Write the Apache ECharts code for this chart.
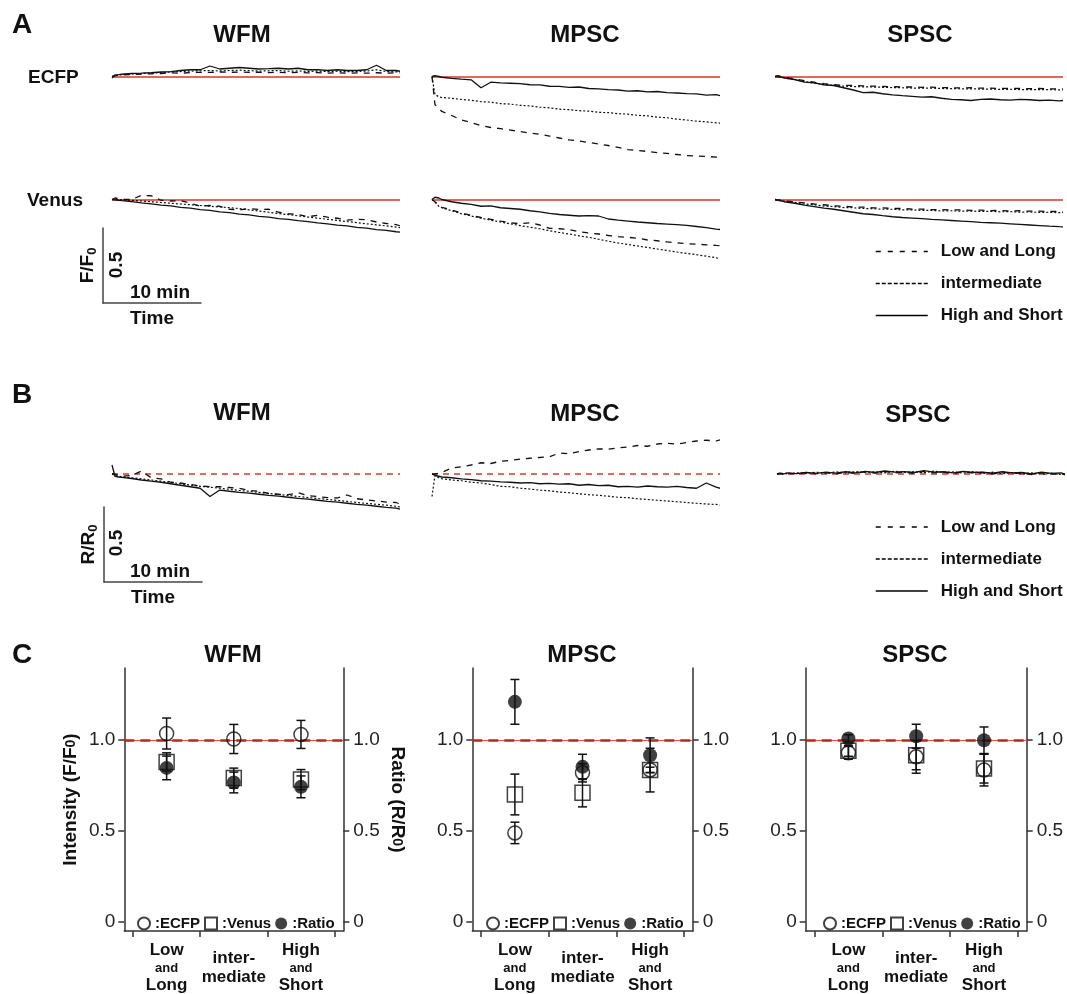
<!DOCTYPE html>
<html>
<head>
<meta charset="utf-8">
<script src="https://cdn.jsdelivr.net/npm/echarts@6/dist/echarts.min.js"></script>
<style>
html,body{margin:0;padding:0;background:#fff}
#main{width:1067px;height:994px}
</style>
</head>
<body>
<div id="main"></div>
<script>
// time points (min) shared by every trace
var T = [0,0.3,0.7, 1,2,3,4,5,6,7,8,9,10, 11,12,13,14,15,16,17,18,19,20, 21,22,23,24,25,26,27,28,29, 29.4];

// A : ECFP  F/F0
var wfmEcfpLL = [1.000,1.004,1.008, 1.010,1.014,1.016,1.018,1.020,1.024,1.022,1.026,1.028,1.027, 1.030,1.028,1.030,1.027,1.029,1.026,1.028,1.025,1.027,1.024, 1.026,1.023,1.025,1.022,1.024,1.022,1.025,1.022,1.024, 1.022];
var wfmEcfpIM = [1.000,1.006,1.010, 1.013,1.017,1.020,1.023,1.026,1.030,1.033,1.036,1.038,1.040, 1.037,1.040,1.042,1.039,1.036,1.038,1.040,1.035,1.037,1.034, 1.036,1.033,1.035,1.032,1.034,1.036,1.045,1.033,1.031, 1.030];
var wfmEcfpHS = [0.990,1.010,1.012, 1.015,1.020,1.022,1.025,1.030,1.032,1.040,1.045,1.045,1.070, 1.050,1.055,1.060,1.055,1.050,1.052,1.055,1.050,1.055,1.045, 1.046,1.040,1.045,1.040,1.040,1.045,1.075,1.040,1.040, 1.035];
var mpscEcfpLL = [1.000,0.813,0.787, 0.767,0.740,0.710,0.693,0.673,0.660,0.652,0.643,0.633,0.623, 0.615,0.603,0.590,0.577,0.570,0.560,0.550,0.540,0.527,0.513, 0.507,0.500,0.493,0.487,0.480,0.473,0.470,0.467,0.463, 0.462];
var mpscEcfpIM = [1.000,0.880,0.865, 0.860,0.855,0.847,0.842,0.832,0.829,0.819,0.816,0.808,0.804, 0.796,0.791,0.782,0.779,0.772,0.769,0.761,0.759,0.752,0.749, 0.741,0.738,0.729,0.725,0.716,0.710,0.702,0.698,0.691, 0.689];
var mpscEcfpHS = [1.000,1.005,1.000, 0.995,0.988,0.982,0.978,0.925,0.962,0.958,0.955,0.952,0.945, 0.944,0.935,0.934,0.928,0.930,0.920,0.918,0.912,0.910,0.902, 0.905,0.898,0.900,0.892,0.890,0.886,0.884,0.876,0.879, 0.873];
var spscEcfpLL = [1.000,1.005,1.000, 0.995,0.985,0.972,0.962,0.952,0.945,0.942,0.940,0.937,0.936, 0.934,0.932,0.930,0.930,0.928,0.929,0.926,0.925,0.924,0.925, 0.922,0.922,0.920,0.921,0.920,0.919,0.920,0.918,0.918, 0.917];
var spscEcfpIM = [1.000,1.002,0.997, 0.990,0.980,0.966,0.956,0.946,0.940,0.936,0.933,0.931,0.930, 0.928,0.926,0.925,0.923,0.922,0.922,0.920,0.919,0.918,0.918, 0.916,0.916,0.914,0.915,0.913,0.913,0.912,0.912,0.911, 0.911];
var spscEcfpHS = [1.000,0.998,0.995, 0.990,0.980,0.962,0.958,0.945,0.940,0.925,0.910,0.893,0.895, 0.885,0.878,0.872,0.868,0.862,0.865,0.855,0.848,0.845,0.840, 0.848,0.850,0.845,0.843,0.848,0.845,0.840,0.842,0.838, 0.840];

// A : Venus  F/F0
var wfmVenLL = [1.000,1.010,1.005, 1.000,1.000,1.027,1.025,0.995,0.990,0.992,0.975,0.955,0.960, 0.955,0.935,0.930,0.940,0.933,0.935,0.915,0.905,0.900,0.885, 0.895,0.882,0.875,0.862,0.868,0.865,0.850,0.840,0.833, 0.825];
var wfmVenIM = [1.000,1.000,0.999, 0.998,0.994,0.990,0.985,0.980,0.975,0.970,0.965,0.960,0.955, 0.950,0.946,0.939,0.931,0.923,0.915,0.907,0.899,0.891,0.883, 0.876,0.868,0.861,0.853,0.846,0.838,0.831,0.824,0.816, 0.813];
var wfmVenHS = [1.000,0.998,0.995, 0.992,0.986,0.977,0.971,0.962,0.957,0.947,0.942,0.932,0.927, 0.918,0.912,0.903,0.897,0.888,0.883,0.873,0.868,0.859,0.853, 0.844,0.838,0.829,0.824,0.814,0.809,0.799,0.794,0.785, 0.782];
var mpscVenLL = [1.000,0.985,0.960, 0.948,0.930,0.910,0.895,0.880,0.868,0.856,0.845,0.838,0.845, 0.830,0.808,0.805,0.800,0.785,0.777,0.770,0.760,0.752,0.748, 0.742,0.730,0.725,0.717,0.711,0.705,0.702,0.698,0.694, 0.693];
var mpscVenIM = [1.000,0.982,0.955, 0.945,0.925,0.905,0.890,0.875,0.862,0.850,0.838,0.826,0.815, 0.805,0.792,0.780,0.770,0.758,0.748,0.735,0.722,0.710,0.700, 0.690,0.680,0.670,0.660,0.650,0.640,0.632,0.622,0.612, 0.605];
var mpscVenHS = [1.000,1.015,1.010, 1.000,0.985,0.975,0.968,0.955,0.958,0.945,0.940,0.935,0.925, 0.918,0.908,0.900,0.895,0.890,0.892,0.890,0.870,0.862,0.856, 0.850,0.845,0.840,0.836,0.832,0.827,0.820,0.812,0.803, 0.800];
var spscVenLL = [1.000,0.998,0.995, 0.990,0.984,0.977,0.970,0.965,0.958,0.955,0.950,0.949,0.944, 0.944,0.940,0.940,0.936,0.936,0.932,0.933,0.930,0.931,0.928, 0.929,0.926,0.927,0.924,0.925,0.922,0.923,0.920,0.921, 0.918];
var spscVenIM = [1.000,0.996,0.992, 0.986,0.979,0.970,0.965,0.956,0.953,0.946,0.945,0.940,0.939, 0.935,0.935,0.931,0.931,0.927,0.927,0.924,0.925,0.922,0.923, 0.920,0.921,0.918,0.919,0.916,0.917,0.914,0.915,0.912, 0.913];
var spscVenHS = [1.000,0.995,0.990, 0.985,0.975,0.962,0.952,0.942,0.935,0.925,0.915,0.905,0.900, 0.892,0.885,0.880,0.876,0.872,0.867,0.864,0.860,0.856,0.852, 0.848,0.845,0.842,0.838,0.834,0.830,0.826,0.822,0.819, 0.818];

// B : ratio  R/R0
var wfmRatLL = [1.000,1.000,0.990, 0.985,0.990,1.020,0.975,0.968,0.945,0.940,0.930,0.920,0.915, 0.915,0.910,0.905,0.890,0.885,0.870,0.865,0.862,0.875,0.855, 0.850,0.842,0.840,0.860,0.835,0.827,0.820,0.813,0.810, 0.800];
var wfmRatIM = [1.000,0.990,0.985, 0.982,0.975,0.968,0.960,0.952,0.944,0.935,0.927,0.918,0.912, 0.905,0.898,0.890,0.884,0.877,0.870,0.864,0.857,0.850,0.843, 0.837,0.830,0.824,0.817,0.810,0.804,0.798,0.792,0.785, 0.780];
var wfmRatHS = [1.060,0.985,0.980, 0.978,0.970,0.960,0.952,0.945,0.935,0.925,0.915,0.905,0.850, 0.893,0.885,0.878,0.872,0.865,0.858,0.852,0.845,0.838,0.832, 0.825,0.818,0.812,0.805,0.798,0.792,0.785,0.778,0.772, 0.766];
var mpscRatLL = [1.000,1.000,1.005, 1.010,1.040,1.048,1.060,1.075,1.070,1.085,1.090,1.100,1.105, 1.110,1.115,1.140,1.135,1.150,1.160,1.168,1.165,1.175,1.180, 1.190,1.185,1.200,1.205,1.200,1.210,1.220,1.225,1.220, 1.228];
var mpscRatIM = [0.850,0.990,0.975, 0.968,0.960,0.955,0.945,0.940,0.930,0.918,0.915,0.905,0.900, 0.892,0.888,0.880,0.875,0.868,0.862,0.858,0.852,0.845,0.842, 0.835,0.830,0.825,0.820,0.815,0.810,0.805,0.800,0.797, 0.793];
var mpscRatHS = [1.000,0.990,0.985, 0.980,0.975,0.968,0.962,0.955,0.952,0.948,0.945,0.940,0.942, 0.935,0.938,0.932,0.935,0.925,0.930,0.922,0.925,0.915,0.918, 0.912,0.920,0.915,0.912,0.918,0.910,0.905,0.940,0.912, 0.905];
var spscRatLL = [1.000,1.004,0.998, 1.006,1.000,1.010,1.002,1.008,1.000,1.012,1.004,1.014,1.006, 1.016,1.008,1.012,1.004,1.018,1.008,1.012,1.002,1.016,1.006, 1.010,1.000,1.012,1.004,1.006,0.996,1.008,1.000,1.002, 0.994];
var spscRatIM = [1.000,1.002,1.006, 1.000,1.008,1.003,1.012,1.005,1.014,1.008,1.016,1.010,1.014, 1.008,1.018,1.011,1.015,1.009,1.019,1.010,1.014,1.006,1.016, 1.004,1.012,1.002,1.010,1.000,1.008,0.998,1.006,0.996, 0.998];
var spscRatHS = [1.000,1.005,1.000, 1.008,1.002,1.010,1.004,1.012,1.006,1.015,1.008,1.018,1.010, 1.020,1.012,1.016,1.010,1.022,1.012,1.015,1.008,1.018,1.010, 1.012,1.005,1.015,1.008,1.010,1.000,1.012,1.004,1.008, 1.000];

var traceNames = ['Low and Long', 'intermediate', 'High and Short'];

// C : means and error bars (Low and Long, intermediate, High and Short)
var cTickLabels = [['Low','and','Long'], ['inter-','mediate'], ['High','and','Short']];
var cWfmEcfp = [1.035, 1.005, 1.030],  cWfmEcfpErr = [0.085, 0.080, 0.077];
var cWfmVenus = [0.879, 0.790, 0.782], cWfmVenusErr = [0.050, 0.055, 0.055];
var cWfmRatio = [0.846, 0.766, 0.742], cWfmRatioErr = [0.065, 0.057, 0.060];
var cMpscEcfp = [0.489, 0.819, 0.835],  cMpscEcfpErr = [0.059, 0.050, 0.015];
var cMpscVenus = [0.700, 0.709, 0.834], cMpscVenusErr = [0.112, 0.077, 0.120];
var cMpscRatio = [1.209, 0.852, 0.916], cMpscRatioErr = [0.123, 0.069, 0.095];
var cSpscEcfp = [0.929, 0.907, 0.834],  cSpscEcfpErr = [0.035, 0.090, 0.087];
var cSpscVenus = [0.940, 0.916, 0.843], cSpscVenusErr = [0.030, 0.080, 0.080];
var cSpscRatio = [1.008, 1.020, 0.998], cSpscRatioErr = [0.020, 0.066, 0.073];

var FONT = '"Liberation Sans", Arial, Helvetica, sans-serif';
var INK = '#111';
var PX = 150; // px per 1.0 of F/F0 in panels A and B

var grids = [], xAxes = [], yAxes = [], series = [];

function pair(vals) {
	return T.map(function (t, i) { return [t, vals[i]]; });
}

var lineStyles = [
	{ type: [6, 6], width: 1.3 },
	{ type: [2, 2], width: 1.2 },
	{ type: 'solid', width: 1.3 }
];
var legendDash = [[5, 7], [4, 2], 'solid'];

var tracePanels = [
	{ left: 112, red: 76.5, ymin: 0.4, ymax: 1.1, data: [wfmEcfpLL, wfmEcfpIM, wfmEcfpHS] },
	{ left: 432, red: 76.5, ymin: 0.4, ymax: 1.1, data: [mpscEcfpLL, mpscEcfpIM, mpscEcfpHS] },
	{ left: 775, red: 76.5, ymin: 0.4, ymax: 1.1, data: [spscEcfpLL, spscEcfpIM, spscEcfpHS] },
	{ left: 112, red: 199.5, ymin: 0.55, ymax: 1.1, data: [wfmVenLL, wfmVenIM, wfmVenHS] },
	{ left: 432, red: 199.5, ymin: 0.55, ymax: 1.1, data: [mpscVenLL, mpscVenIM, mpscVenHS] },
	{ left: 775, red: 199.5, ymin: 0.55, ymax: 1.1, data: [spscVenLL, spscVenIM, spscVenHS] },
	{ left: 112, red: 474, ymin: 0.6, ymax: 1.35, data: [wfmRatLL, wfmRatIM, wfmRatHS], dashed: true },
	{ left: 432, red: 474, ymin: 0.6, ymax: 1.35, data: [mpscRatLL, mpscRatIM, mpscRatHS], dashed: true },
	{ left: 777, red: 474, ymin: 0.6, ymax: 1.35, data: [spscRatLL, spscRatIM, spscRatHS], dashed: true }
];

tracePanels.forEach(function (p) {
	var gi = grids.length;
	grids.push({ left: p.left, top: p.red - (p.ymax - 1) * PX, width: 288, height: (p.ymax - p.ymin) * PX });
	xAxes.push({ gridIndex: gi, type: 'value', min: 0, max: 29.4, show: false });
	yAxes.push({ gridIndex: gi, type: 'value', min: p.ymin, max: p.ymax, show: false });
	p.data.forEach(function (vals, k) {
		var s = {
			name: traceNames[k], type: 'line', xAxisIndex: gi, yAxisIndex: yAxes.length - 1,
			data: pair(vals), symbol: 'none', z: 3, silent: true,
			itemStyle: { color: INK },
			lineStyle: { color: INK, width: lineStyles[k].width, type: lineStyles[k].type }
		};
		if (k === 2) {
			s.markLine = {
				silent: true, symbol: 'none', z: 1, label: { show: false },
				lineStyle: { color: '#dd3526', width: 1.5, type: p.dashed ? [6, 5] : 'solid' },
				data: [{ yAxis: 1 }]
			};
		}
		series.push(s);
	});
});

// scale bars (10 min x 0.5)
var barAxis = { show: true, lineStyle: { color: '#444', width: 1.5 } };
var nameStyle = { fontFamily: FONT, fontSize: 19, fontWeight: 'bold', color: INK,
	rich: { s: { fontFamily: FONT, fontSize: 13, fontWeight: 'bold', color: INK, verticalAlign: 'bottom', lineHeight: 22 } } };
[{ left: 103, top: 228, name: 'F/F{s|0}' }, { left: 104, top: 507, name: 'R/R{s|0}' }].forEach(function (b) {
	var gi = grids.length;
	grids.push({ left: b.left, top: b.top, width: 98, height: 75 });
	xAxes.push({ gridIndex: gi, type: 'value', min: 0, max: 10, axisLine: barAxis, axisTick: { show: false },
		axisLabel: { show: false }, splitLine: { show: false },
		name: 'Time', nameLocation: 'middle', nameGap: 6, nameTextStyle: nameStyle });
	yAxes.push({ gridIndex: gi, type: 'value', min: 0, max: 0.5, axisLine: barAxis, axisTick: { show: false },
		axisLabel: { show: false }, splitLine: { show: false },
		name: b.name, nameLocation: 'middle', nameGap: 4, nameTextStyle: nameStyle });
});

// panel C
function errItem(params, api) {
	var x = api.value(0), y = api.value(1), e = api.value(2);
	var a = api.coord([x, y + e]), b = api.coord([x, y - e]);
	var w = 4.5, st = { stroke: INK, lineWidth: 1.5 };
	return {
		type: 'group', children: [
			{ type: 'line', shape: { x1: a[0], y1: a[1], x2: b[0], y2: b[1] }, style: st },
			{ type: 'line', shape: { x1: a[0] - w, y1: a[1], x2: a[0] + w, y2: a[1] }, style: st },
			{ type: 'line', shape: { x1: b[0] - w, y1: b[1], x2: b[0] + w, y2: b[1] }, style: st }
		]
	};
}
function pts(vals) { return vals.map(function (v, i) { return [i + 1, v]; }); }
function errPts(vals, errs) { return vals.map(function (v, i) { return [i + 1, v, errs[i]]; }); }

var cAxisLine = { show: true, onZero: false, lineStyle: { color: '#333', width: 1.5 } };
var cTick = { show: true, length: 6, lineStyle: { color: '#333', width: 1.5 }, customValues: [0, 0.5, 1] };
var cLabel = { color: '#222', fontFamily: FONT, fontSize: 19, customValues: [0, 0.5, 1],
	formatter: function (v) { return v === 0 ? '0' : v.toFixed(1); } };

var cPanels = [
	{ left: 124.3, width: 219, legendLeft: 132, named: true,
		ecfp: [cWfmEcfp, cWfmEcfpErr], venus: [cWfmVenus, cWfmVenusErr], ratio: [cWfmRatio, cWfmRatioErr] },
	{ left: 472.3, width: 220.4, legendLeft: 481,
		ecfp: [cMpscEcfp, cMpscEcfpErr], venus: [cMpscVenus, cMpscVenusErr], ratio: [cMpscRatio, cMpscRatioErr] },
	{ left: 805.7, width: 221, legendLeft: 818,
		ecfp: [cSpscEcfp, cSpscEcfpErr], venus: [cSpscVenus, cSpscVenusErr], ratio: [cSpscRatio, cSpscRatioErr] }
];

var legends = [];
[238, 513.5].forEach(function (top) {
	legends.push({
		data: traceNames.map(function (n, k) {
			return { name: n, itemStyle: { color: 'rgba(0,0,0,0)', borderWidth: 0 },
				lineStyle: { color: '#000', width: 1.5, opacity: 1, type: legendDash[k] } };
		}),
		orient: 'vertical', left: 870, top: top, itemWidth: 52, itemHeight: 14,
		itemGap: 15, selectedMode: false,
		textStyle: { fontFamily: FONT, fontSize: 17, fontWeight: 'bold', color: INK, padding: [0, 0, 0, 8] } });
});

cPanels.forEach(function (p) {
	var gi = grids.length;
	grids.push({ left: p.left, top: 668, width: p.width, height: 263 });
	xAxes.push({ gridIndex: gi, type: 'value', min: 0.37, max: 3.63, axisLine: cAxisLine,
		axisTick: { show: true, length: 6, lineStyle: { color: '#333', width: 1.5 }, customValues: [0.5, 1.5, 2.5, 3.5] },
		axisLabel: { customValues: [1, 2, 3], margin: 37, verticalAlign: 'middle', color: INK,
			formatter: function (v) {
				return cTickLabels[v - 1].map(function (w) { return w === 'and' ? '{s|and}' : '{b|' + w + '}'; }).join('\n');
			},
			rich: {
				b: { fontFamily: FONT, fontSize: 17, fontWeight: 'bold', color: INK, lineHeight: 19 },
				s: { fontFamily: FONT, fontSize: 13, fontWeight: 'bold', color: INK, lineHeight: 16 }
			} },
		splitLine: { show: false } });
	var yl = yAxes.length;
	var yLeft = { gridIndex: gi, type: 'value', position: 'left', min: -0.05, max: 1.395,
		axisLine: cAxisLine, axisTick: cTick, axisLabel: Object.assign({ margin: 9 }, cLabel), splitLine: { show: false } };
	var yRight = { gridIndex: gi, type: 'value', position: 'right', min: -0.05, max: 1.395,
		axisLine: cAxisLine, axisTick: cTick, axisLabel: Object.assign({ margin: 10 }, cLabel), splitLine: { show: false } };
	if (p.named) {
		var ns = { fontFamily: FONT, fontSize: 19, fontWeight: 'bold', color: INK,
			rich: { s: { fontFamily: FONT, fontSize: 14, fontWeight: 'bold', color: INK } } };
		yLeft.name = 'Intensity (F/F{s|0})'; yLeft.nameLocation = 'middle'; yLeft.nameGap = 44; yLeft.nameTextStyle = ns;
		yRight.name = 'Ratio (R/R{s|0})'; yRight.nameLocation = 'middle'; yRight.nameGap = 44; yRight.nameRotate = -90; yRight.nameTextStyle = ns;
	}
	yAxes.push(yLeft, yRight);

	series.push({
		name: 'Venus', type: 'scatter', xAxisIndex: gi, yAxisIndex: yl, data: pts(p.venus[0]),
		symbol: 'rect', symbolSize: 15, z: 3,
		itemStyle: { color: 'rgba(255,255,255,0)', borderColor: INK, borderWidth: 1.5 },
		markLine: {
			silent: true, symbol: 'none', z: 1, label: { show: false },
			data: [
				{ yAxis: 1, lineStyle: { color: '#e8503c', width: 1.2, type: 'solid' } },
				{ yAxis: 1, lineStyle: { color: '#b8261c', width: 2.5, type: [10, 6] } }
			]
		}
	});
	series.push({
		name: 'ECFP', type: 'scatter', xAxisIndex: gi, yAxisIndex: yl, data: pts(p.ecfp[0]),
		symbol: 'circle', symbolSize: 14, z: 3,
		itemStyle: { color: 'rgba(255,255,255,0)', borderColor: INK, borderWidth: 1.5 }
	});
	series.push({
		name: 'Ratio', type: 'scatter', xAxisIndex: gi, yAxisIndex: yl, data: pts(p.ratio[0]),
		symbol: 'circle', symbolSize: 14, z: 4, itemStyle: { color: INK }
	});
	series.push({
		name: 'err', type: 'custom', xAxisIndex: gi, yAxisIndex: yl, z: 5, silent: true,
		renderItem: errItem,
		data: errPts(p.venus[0], p.venus[1]).concat(errPts(p.ecfp[0], p.ecfp[1]), errPts(p.ratio[0], p.ratio[1]))
	});
	legends.push({ data: ['ECFP', 'Venus', 'Ratio'], left: p.legendLeft, top: 911, itemWidth: 12, itemHeight: 12,
		itemGap: 4, selectedMode: false, formatter: ':{name}',
		textStyle: { fontFamily: FONT, fontSize: 15, fontWeight: 'bold', color: INK } });
});

// titles and annotation text
function txt(s, x, y, size, opts) {
	opts = opts || {};
	return {
		type: 'text', x: x, y: y, rotation: opts.rot || 0, silent: true,
		style: {
			text: s, fill: INK, font: 'bold ' + size + 'px ' + FONT,
			textAlign: opts.align || 'center', align: opts.align || 'center',
			textVerticalAlign: 'middle', verticalAlign: 'middle'
		}
	};
}
var graphics = [
	txt('A', 22, 25, 28), txt('B', 22, 395, 28), txt('C', 22, 655, 28),
	txt('WFM', 242, 35, 24), txt('MPSC', 585, 35, 24), txt('SPSC', 920, 35, 24),
	txt('ECFP', 28, 78, 19, { align: 'left' }), txt('Venus', 27, 201, 19, { align: 'left' }),
	txt('WFM', 242, 413, 24), txt('MPSC', 585, 414, 24), txt('SPSC', 918, 415, 24),
	txt('WFM', 233, 655, 24), txt('MPSC', 582, 655, 24), txt('SPSC', 915, 655, 24),
	txt('0.5', 117, 265, 19, { rot: Math.PI / 2 }), txt('10 min', 160, 293, 19),
	txt('0.5', 117, 543, 19, { rot: Math.PI / 2 }), txt('10 min', 160, 572, 19)
];

var option = {
	backgroundColor: '#fff',
	animation: false,
	textStyle: { fontFamily: FONT },
	grid: grids,
	xAxis: xAxes,
	yAxis: yAxes,
	legend: legends,
	graphic: graphics,
	series: series
};

var myChart = echarts.init(document.getElementById('main'));
myChart.setOption(option);
</script>
</body>
</html>
